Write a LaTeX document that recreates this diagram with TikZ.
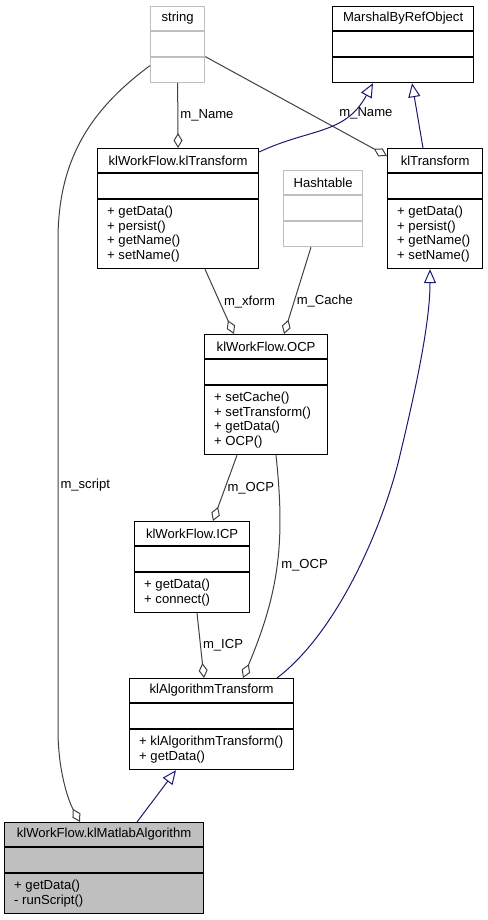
\documentclass[tikz,border=0pt]{standalone}
\usepackage{fontspec}
\setmainfont{Liberation Sans}
\usetikzlibrary{arrows.meta, calc}
\definecolor{colorLinea}{HTML}{404040}
\definecolor{colorHerencia}{HTML}{191970}
\definecolor{colorExterno}{HTML}{BFBFBF}
\definecolor{colorActual}{HTML}{BFBFBF}

% caja UML: [estilo]{nombre}{x,y}{ancho}{alto}{titulo}{metodos}
\newcommand{\clase}[7][cls]{%
    \node[#1, minimum width=#4pt, minimum height=#5pt, anchor=north west] (#2) at (#3) {};
    \draw[#1] ([yshift=-25pt]#2.north west) -- ([yshift=-25pt]#2.north east)
              ([yshift=-51pt]#2.north west) -- ([yshift=-51pt]#2.north east);
    \node at ([yshift=-12.5pt]#2.north) {#6};
    \node[anchor=north west, align=left, inner sep=0pt] at ([xshift=10pt, yshift=-58pt]#2.north west) {#7};
}

\begin{document}
\begin{tikzpicture}[
        x=1pt, y=-1pt,
        font=\fontsize{13.1}{14.6}\selectfont,
        cls/.style={draw=black, fill=white, line width=1.2pt, inner sep=0pt},
        ext/.style={cls, draw=colorExterno},
        act/.style={cls, fill=colorActual},
        agg/.style={-{Diamond[open, length=15pt, width=9pt]}, colorLinea, line width=1pt},
        inh/.style={-{Triangle[open, fill=white, length=14pt, width=12pt]}, colorHerencia, line width=1pt},
        lbl/.style={text=black, inner sep=2pt}
    ]
        \useasboundingbox (0,0) rectangle (487,920);

        \clase[ext]{str}{150,6}{54}{76}{string}{}
        \clase{mbro}{332,6}{141}{76}{MarshalByRefObject}{}
        \clase{wfTrans}{97,148}{161}{120}{klWorkFlow.klTransform}{+ getData()\\+ persist()\\+ getName()\\+ setName()}
        \clase[ext]{hash}{283,170}{79}{76}{Hashtable}{}
        \clase{trans}{387,148}{95}{120}{klTransform}{+ getData()\\+ persist()\\+ getName()\\+ setName()}
        \clase{ocp}{204,334}{123}{120}{klWorkFlow.OCP}{+ setCache()\\+ setTransform()\\+ getData()\\+ OCP()}
        \clase{icp}{134,521}{115}{91}{klWorkFlow.ICP}{+ getData()\\+ connect()}
        \clase{algo}{129,678}{164}{91}{klAlgorithmTransform}{+ klAlgorithmTransform()\\+ getData()}
        \clase[act]{matlab}{4,822}{199}{91}{klWorkFlow.klMatlabAlgorithm}{+ getData()\\- runScript()}

        \draw[agg] (str.south) -- node[lbl, right] {m\_Name} (wfTrans.north);
        \draw[agg] ([yshift=-12pt]str.east) -- node[lbl, pos=0.57, right, xshift=28pt] {m\_Name} ([yshift=-8pt]trans.north west);
        \draw[inh] ([yshift=-4pt]wfTrans.north east) .. controls (310,128) and (345,135) .. ([xshift=41pt]mbro.south west);
        \draw[inh] ([xshift=36pt]trans.north west) -- ([xshift=80pt]mbro.south west);
        \draw[agg] ([xshift=108pt]wfTrans.south west) -- node[lbl, right, xshift=2pt] {m\_xform} ([xshift=30pt]ocp.north west);
        \draw[agg] ([xshift=28pt]hash.south west) -- node[lbl, right, pos=0.62] {m\_Cache} ([xshift=80pt]ocp.north west);
        \draw[inh] ([xshift=148pt]algo.north west) .. controls (340,630) and (385,520) .. (400,455)
            .. controls (418,380) and (430,320) .. ([xshift=43pt]trans.south west);
        \draw[agg] ([xshift=33pt]ocp.south west) -- node[lbl, right] {m\_OCP} ([xshift=79pt]icp.north west);
        \draw[agg] ([xshift=72pt]ocp.south west) .. controls (285,540) and (280,590) .. node[lbl, right, xshift=2pt] {m\_OCP} ([xshift=114pt]algo.north west);
        \draw[agg] ([xshift=63pt]icp.south west) -- node[lbl, right] {m\_ICP} ([xshift=75pt]algo.north west);
        \draw[inh] ([xshift=133pt]matlab.north west) -- ([xshift=47pt]algo.south west);
        \draw[agg] ([yshift=-21pt]str.west) .. controls (90,110) and (58,160) .. (58,240)
            -- node[lbl, right] {m\_script} (58,730) .. controls (58,770) and (68,800) .. ([xshift=76pt]matlab.north west);
    \end{tikzpicture}
\end{document}
